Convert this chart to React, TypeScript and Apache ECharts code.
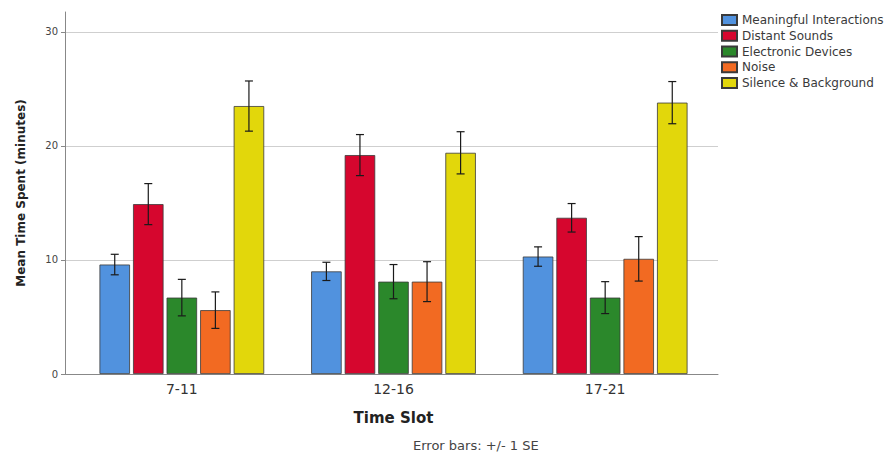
import React, { useEffect, useRef } from "react";
import * as echarts from "echarts";

const categories = ["7-11", "12-16", "17-21"];
const seriesNames = [
  "Meaningful Interactions",
  "Distant Sounds",
  "Electronic Devices",
  "Noise",
  "Silence & Background",
];
const meaningful = [9.6, 9.0, 10.3];
const distant = [14.9, 19.2, 13.7];
const electronic = [6.7, 8.1, 6.7];
const noise = [5.6, 8.1, 10.1];
const silence = [23.5, 19.4, 23.8];

const meaningfulSE = [0.9, 0.8, 0.85];
const distantSE = [1.8, 1.8, 1.25];
const electronicSE = [1.6, 1.5, 1.4];
const noiseSE = [1.6, 1.75, 1.95];
const silenceSE = [2.2, 1.85, 1.85];

const yTicks = [0, 10, 20, 30];

const colors = ["#5192DE", "#D6062E", "#2B882B", "#F26A22", "#E2D70B"];

const FONT = "'DejaVu Sans', 'Liberation Sans', Arial, sans-serif";

export default function App() {
  const ref = useRef<HTMLDivElement>(null);

  useEffect(() => {
    if (!ref.current) return;
    const chart = echarts.init(ref.current, null, { renderer: "svg" });
    const values = [meaningful, distant, electronic, noise, silence];
    const ses = [meaningfulSE, distantSE, electronicSE, noiseSE, silenceSE];
    const barWidth = 30.5;
    const pitch = barWidth * 1.1;

    const barSeries = seriesNames.map((name, i) => ({
      name,
      type: "bar",
      xAxisIndex: 1,
      yAxisIndex: 1,
      barWidth,
      barGap: "10%",
      data: values[i],
      itemStyle: { color: colors[i], borderColor: "#3a3a3a", borderWidth: 0.8 },
      z: 2,
    }));

    const errSeries = seriesNames.map((name, i) => ({
      name: name + " SE",
      type: "custom",
      xAxisIndex: 1,
      yAxisIndex: 1,
      z: 5,
      silent: true,
      data: values[i].map((v, k) => [k, v, ses[i][k]]),
      encode: { x: 0, y: 1 },
      renderItem: (params: any, api: any) => {
        const x = api.value(0);
        const v = api.value(1);
        const se = api.value(2);
        const top = api.coord([x, v + se]);
        const bot = api.coord([x, v - se]);
        const cx = top[0] + (i - 2) * pitch;
        const cap = 4;
        const style = { stroke: "#1a1a1a", lineWidth: 1.2 };
        return {
          type: "group",
          children: [
            { type: "line", shape: { x1: cx, y1: top[1], x2: cx, y2: bot[1] }, style },
            { type: "line", shape: { x1: cx - cap, y1: top[1], x2: cx + cap, y2: top[1] }, style },
            { type: "line", shape: { x1: cx - cap, y1: bot[1], x2: cx + cap, y2: bot[1] }, style },
          ],
        };
      },
    }));

    const yMax = 31.75;

    chart.setOption({
      animation: false,
      backgroundColor: "#ffffff",
      textStyle: { fontFamily: FONT },
      grid: [
        { left: 65, right: 176, top: 12, bottom: 81 },
        { left: 76, right: 183, top: 12, bottom: 81 },
      ],
      legend: {
        orient: "vertical",
        left: 721,
        top: 14,
        padding: 0,
        icon: "rect",
        itemWidth: 15,
        itemHeight: 10,
        itemGap: 3.75,
        data: seriesNames,
        textStyle: { fontSize: 12, color: "#3a3a3a", fontFamily: FONT },
      },
      xAxis: [
        {
          type: "value",
          gridIndex: 0,
          min: 0,
          max: 1,
          axisLine: { show: true, lineStyle: { color: "#888", width: 1 } },
          axisTick: { show: false },
          axisLabel: { show: false },
          splitLine: { show: false },
        },
        {
          type: "category",
          gridIndex: 1,
          data: categories,
          axisLine: { show: false },
          axisTick: { show: false },
          axisLabel: { color: "#333", fontSize: 14, margin: 8, fontFamily: FONT },
          name: "Time Slot",
          nameLocation: "middle",
          nameGap: 36,
          nameTextStyle: { fontSize: 15, fontWeight: "bold", color: "#222", fontFamily: FONT },
        },
      ],
      yAxis: [
        {
          type: "value",
          gridIndex: 0,
          min: 0,
          max: yMax,
          interval: 10,
          axisLine: { show: true, lineStyle: { color: "#888", width: 1 } },
          axisTick: { show: true, length: 4, lineStyle: { color: "#888" } },
          axisLabel: {
            color: "#444",
            fontSize: 10,
            margin: 7,
            showMaxLabel: false,
            fontFamily: FONT,
            formatter: (v: number) => (yTicks.includes(v) ? String(v) : ""),
          },
          splitLine: { show: true, showMinLine: false, showMaxLine: false, lineStyle: { color: "#cfcfcf", width: 1 } },
          name: "Mean Time Spent (minutes)",
          nameLocation: "middle",
          nameRotate: 90,
          nameGap: 38,
          nameTextStyle: { fontSize: 12, fontWeight: "bold", color: "#222", fontFamily: FONT },
        },
        {
          type: "value",
          gridIndex: 1,
          min: 0,
          max: yMax,
          interval: 10,
          show: false,
          splitLine: { show: false },
        },
      ],
      graphic: [
        {
          type: "text",
          left: 413,
          top: 439,
          style: { text: "Error bars: +/- 1 SE", fontSize: 13, fill: "#444", fontFamily: FONT },
        },
      ],
      series: [...barSeries, ...errSeries],
    });

    return () => chart.dispose();
  }, []);

  return (
    <div
      ref={ref}
      style={{ position: "fixed", left: 0, top: 0, width: 894, height: 455, background: "#fff" }}
    />
  );
}
